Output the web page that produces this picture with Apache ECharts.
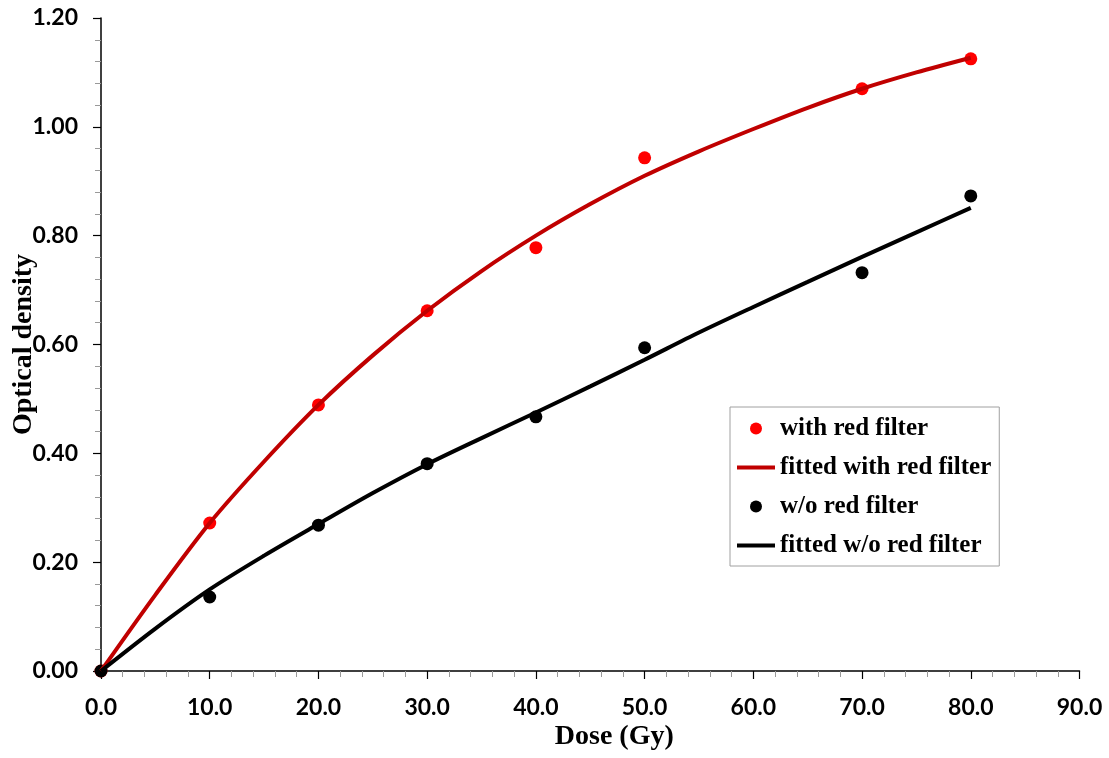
<!DOCTYPE html>
<html>
<head>
<meta charset="utf-8">
<title>Optical density vs dose</title>
<script src="https://cdn.jsdelivr.net/npm/echarts@6/dist/echarts.min.js"></script>
<style>
  * { margin: 0; padding: 0; }
  body { background: #fff; }
</style>
</head>
<body>
<div id="main" style="width:1109px;height:758px;"></div>
<script>
// measured points (Gy -> OD)
var doses = [0, 10, 20, 30, 40, 50, 70, 80];
var odRed = [0, 0.272, 0.489, 0.662, 0.778, 0.943, 1.070, 1.125];
var odNoRed = [0, 0.136, 0.268, 0.381, 0.467, 0.594, 0.732, 0.873];

// fitted curves, every 5 Gy
var fitDoses = [0, 5, 10, 15, 20, 25, 30, 35, 40, 45, 50, 55, 60, 65, 70, 75, 80];
var fitRed = [0, 0.140, 0.272, 0.385, 0.489, 0.580, 0.662, 0.735, 0.800, 0.858, 0.910, 0.955, 0.996, 1.035, 1.070, 1.100, 1.127];
var fitNoRed = [0, 0.078, 0.150, 0.212, 0.270, 0.327, 0.380, 0.428, 0.475, 0.523, 0.572, 0.622, 0.669, 0.715, 0.761, 0.806, 0.851];

var seriesNames = ['with red filter', 'fitted with red filter', 'w/o red filter', 'fitted w/o red filter'];

function pairs(xs, ys) {
    return xs.map(function (x, i) { return [x, ys[i]]; });
}

var myChart = echarts.init(document.getElementById('main'));

var tickLabel = { color: '#000', fontFamily: 'Lato', fontWeight: 'bold', fontSize: 23 };
var nameStyle = { color: '#000', fontFamily: 'Liberation Serif', fontWeight: 'bold', fontSize: 28 };
var lineIcon = 'path://M0,0 L38,0 L38,4 L0,4 Z';

var option = {
    backgroundColor: '#fff',
    animation: false,
    grid: { left: 101, right: 29.5, top: 18, bottom: 87, containLabel: false, outerBoundsMode: 'none' },
    legend: {
        orient: 'vertical',
        left: 730,
        top: 407,
        padding: [9, 8, 8, 7],
        itemWidth: 38,
        itemHeight: 12,
        itemGap: 14,
        borderColor: '#a0a0a0',
        borderWidth: 1,
        backgroundColor: '#fff',
        textStyle: { color: '#000', fontFamily: 'Liberation Serif', fontWeight: 'bold', fontSize: 25 },
        data: [
            { name: seriesNames[0], icon: 'circle' },
            { name: seriesNames[1], icon: lineIcon },
            { name: seriesNames[2], icon: 'circle' },
            { name: seriesNames[3], icon: lineIcon }
        ]
    },
    xAxis: {
        type: 'value',
        min: 0,
        max: 90,
        interval: 10,
        name: 'Dose (Gy)',
        nameLocation: 'middle',
        nameGap: 52,
        nameMoveOverlap: false,
        nameTextStyle: Object.assign({ padding: [0, 0, 0, 48] }, nameStyle),
        splitLine: { show: false },
        axisLine: { lineStyle: { color: '#000', width: 1.5 } },
        axisTick: { inside: false, length: 8, lineStyle: { color: '#000', width: 1.2 } },
        minorTick: { show: true, splitNumber: 5, length: 6, lineStyle: { color: '#999', width: 1 } },
        axisLabel: Object.assign({
            margin: 25,
            formatter: function (v) { return v.toFixed(1); }
        }, tickLabel)
    },
    yAxis: {
        type: 'value',
        min: 0,
        max: 1.2,
        interval: 0.2,
        name: 'Optical density',
        nameLocation: 'middle',
        nameGap: 63,
        nameMoveOverlap: false,
        nameTextStyle: nameStyle,
        splitLine: { show: false },
        axisLine: { lineStyle: { color: '#000', width: 1.5 } },
        axisTick: { inside: false, length: 8, lineStyle: { color: '#000', width: 1.2 } },
        minorTick: { show: true, splitNumber: 5, length: 6, lineStyle: { color: '#999', width: 1 } },
        axisLabel: Object.assign({
            margin: 23,
            formatter: function (v) { return v.toFixed(2); }
        }, tickLabel)
    },
    series: [
        {
            name: seriesNames[1],
            type: 'line',
            smooth: 0.3,
            symbol: 'none',
            lineStyle: { color: '#C00000', width: 4 },
            itemStyle: { color: '#C00000' },
            data: pairs(fitDoses, fitRed)
        },
        {
            name: seriesNames[3],
            type: 'line',
            smooth: 0.3,
            symbol: 'none',
            lineStyle: { color: '#000', width: 4 },
            itemStyle: { color: '#000' },
            data: pairs(fitDoses, fitNoRed)
        },
        {
            name: seriesNames[0],
            type: 'scatter',
            symbol: 'circle',
            symbolSize: 13,
            itemStyle: { color: '#FF0000', opacity: 1 },
            data: pairs(doses, odRed)
        },
        {
            name: seriesNames[2],
            type: 'scatter',
            symbol: 'circle',
            symbolSize: 13,
            itemStyle: { color: '#000', opacity: 1 },
            data: pairs(doses, odNoRed)
        }
    ]
};

myChart.setOption(option);
</script>
</body>
</html>
